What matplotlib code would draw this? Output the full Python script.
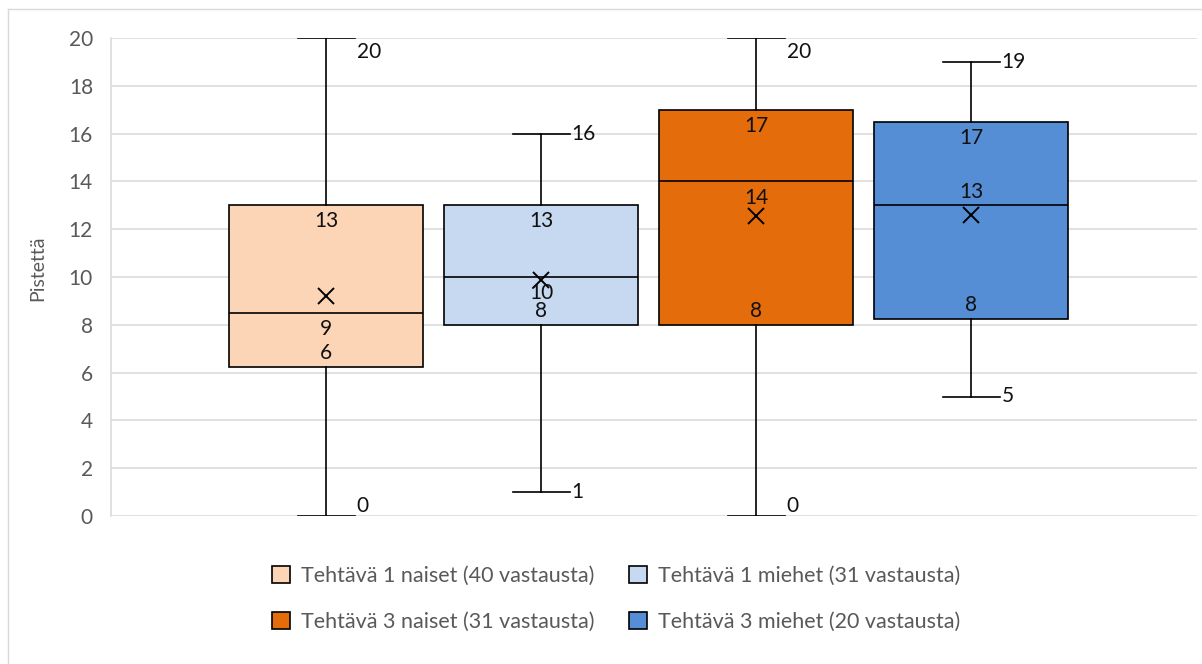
from decimal import Decimal, ROUND_HALF_UP

import matplotlib
matplotlib.use("Agg")
import matplotlib.pyplot as plt
from matplotlib.lines import Line2D
from matplotlib.patches import Patch

# score distributions per task / gender
groups = [
    "Tehtävä 1 naiset (40 vastausta)",
    "Tehtävä 1 miehet (31 vastausta)",
    "Tehtävä 3 naiset (31 vastausta)",
    "Tehtävä 3 miehet (20 vastausta)",
]
mins = [0, 1, 0, 5]
q1s = [6.25, 8, 8, 8.25]
medians = [8.5, 10, 14, 13]
q3s = [13, 13, 17, 16.5]
maxs = [20, 16, 20, 19]
means = [9.2, 9.87, 12.55, 12.6]
yticks = [0, 2, 4, 6, 8, 10, 12, 14, 16, 18, 20]

colors = ["#FBD5B5", "#C6D9F1", "#E46C0A", "#558ED5"]
# median label above (+) or below (-) the median line, in pixels
median_dy = [-16, -16, -17, 13]

GRID = "#D9D9D9"
TXT = "#595959"
FS = 15
plt.rcParams["font.family"] = ["Lato", "DejaVu Sans"]


def fmt(v):
    return str(Decimal(str(v)).quantize(Decimal("1"), rounding=ROUND_HALF_UP))


fig = plt.figure(figsize=(12.02, 6.64), dpi=100)
W, H = 1202, 664
ax = fig.add_axes([111 / W, 1 - 516 / H, (1197 - 111) / W, (516 - 38) / H])

positions = [1, 2, 3, 4]
box_w = 0.9
cap_w = 0.265
stats = []
for lo, a, m, b, hi, mu in zip(mins, q1s, medians, q3s, maxs, means):
    stats.append(dict(whislo=lo, q1=a, med=m, q3=b, whishi=hi, mean=mu, fliers=[]))

bp = ax.bxp(
    stats, positions=positions, widths=box_w, capwidths=cap_w,
    patch_artist=True, showmeans=True, showfliers=False,
    boxprops=dict(edgecolor="black", linewidth=1.2),
    medianprops=dict(color="black", linewidth=1.2),
    whiskerprops=dict(color="black", linewidth=1.2),
    capprops=dict(color="black", linewidth=1.2),
    meanprops=dict(marker="x", markeredgecolor="black", markersize=11, markeredgewidth=1.4),
    zorder=3,
)
for patch, c in zip(bp["boxes"], colors):
    patch.set_facecolor(c)

ax.set_xlim(0, 5.05)
ax.set_ylim(0, 20)
ax.set_yticks(yticks)
ax.set_xticks([])
ax.grid(axis="y", color=GRID, linewidth=1.1, zorder=0)
ax.set_axisbelow(True)
for side in ["top", "right", "bottom"]:
    ax.spines[side].set_visible(False)
ax.spines["left"].set_color(GRID)
ax.spines["left"].set_linewidth(1.1)
ax.tick_params(axis="y", length=0, pad=13, labelsize=FS, labelcolor=TXT)

lab = dict(fontsize=FS, color="#111111", textcoords="offset pixels", zorder=5)
for i, x in enumerate(positions):
    # quartile and median labels inside the box
    ax.annotate(fmt(q3s[i]), (x, q3s[i]), xytext=(0, -16), ha="center", va="center", **lab)
    ax.annotate(fmt(q1s[i]), (x, q1s[i]), xytext=(0, 14), ha="center", va="center", **lab)
    ax.annotate(fmt(medians[i]), (x, medians[i]), xytext=(0, median_dy[i]),
                ha="center", va="center", **lab)
    # whisker ends, kept inside the plot area
    xr = x + cap_w / 2
    dy_hi = -14 if maxs[i] >= 20 else 0
    dy_lo = 10 if mins[i] <= 0 else 0
    ax.annotate(fmt(maxs[i]), (xr, maxs[i]), xytext=(2, dy_hi), ha="left", va="center", **lab)
    ax.annotate(fmt(mins[i]), (xr, mins[i]), xytext=(2, dy_lo), ha="left", va="center", **lab)

fig.text(38 / W, 1 - 268 / H, "Pistettä", rotation=90, ha="center", va="center",
         fontsize=14, color=TXT)

handles = [Patch(facecolor=c, edgecolor="black", linewidth=1.2) for c in colors]
order = [0, 2, 1, 3]
fig.legend([handles[k] for k in order], [groups[k] for k in order],
           ncol=2, loc="center", bbox_to_anchor=(616 / W, 1 - 599 / H),
           frameon=False, fontsize=15.5, labelcolor=TXT,
           handlelength=0.85, handleheight=0.85, handletextpad=0.5,
           columnspacing=1.6, labelspacing=1.2, borderpad=0.2)

# chart frame
fig.add_artist(Line2D([8 / W, 1], [1 - 9 / H, 1 - 9 / H], color=GRID, linewidth=1.0,
                      transform=fig.transFigure))
fig.add_artist(Line2D([8 / W, 8 / W], [0, 1 - 9 / H], color=GRID, linewidth=1.0,
                      transform=fig.transFigure))

fig.savefig("out.png", dpi=100, facecolor="white")
